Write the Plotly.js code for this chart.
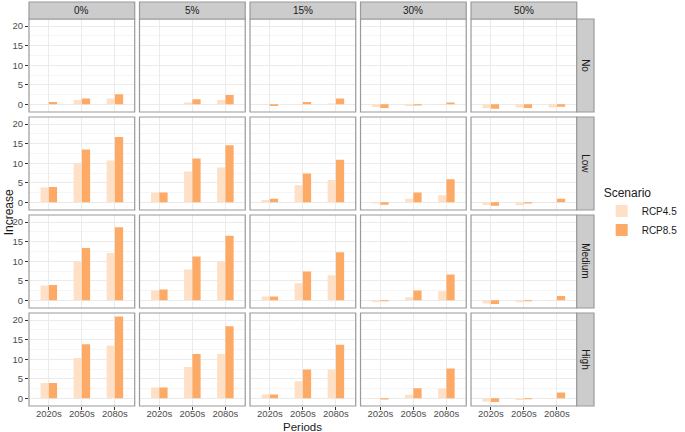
<!DOCTYPE html>
<html>
<head>
<meta charset="utf-8">
<script src="https://cdn.plot.ly/plotly-3.0.1.min.js"></script>
<style>html,body{margin:0;padding:0;background:#fff;}#chart{width:685px;height:432px;}</style>
</head>
<body>
<div id="chart"></div>
<script>
// ---- data ----
const periods = ["2020s", "2050s", "2080s"];
const shares = ["0%", "5%", "15%", "30%", "50%"];
const levels = ["No", "Low", "Medium", "High"];
const scenarios = ["RCP4.5", "RCP8.5"];

// values[level][share] = [2020s, 2050s, 2080s]
const rcp45_No     = [[0.1, 1.1, 1.5], [0.0, 0.5, 1.1], [-0.1, 0.1, 0.25], [-0.7, -0.4, -0.15], [-1.0, -0.8, -0.8]];
const rcp85_No     = [[0.6, 1.5, 2.6], [0.05, 1.3, 2.4], [-0.4, 0.6, 1.5], [-0.9, -0.3, 0.5], [-1.1, -0.9, -0.6]];
const rcp45_Low    = [[3.8, 9.9, 10.7], [2.5, 7.9, 8.9], [0.6, 4.4, 5.7], [-0.3, 0.9, 1.8], [-0.7, -0.75, -0.1]];
const rcp85_Low    = [[3.9, 13.5, 16.7], [2.5, 11.2, 14.6], [0.95, 7.4, 10.9], [-0.6, 2.5, 5.9], [-0.85, -0.3, 0.9]];
const rcp45_Medium = [[3.8, 9.9, 12.1], [2.5, 7.9, 10.0], [1.0, 4.4, 6.4], [-0.4, 0.8, 2.3], [-0.8, -0.5, -0.1]];
const rcp85_Medium = [[3.9, 13.4, 18.7], [2.8, 11.2, 16.5], [1.0, 7.4, 12.3], [-0.2, 2.5, 6.6], [-0.95, -0.25, 1.1]];
const rcp45_High   = [[3.9, 10.3, 13.5], [2.8, 8.0, 11.3], [1.0, 4.4, 7.4], [-0.1, 0.9, 2.5], [-0.8, -0.4, -0.1]];
const rcp85_High   = [[3.9, 13.8, 20.9], [2.8, 11.3, 18.4], [1.0, 7.4, 13.7], [-0.3, 2.6, 7.6], [-0.95, -0.2, 1.5]];

const rcp45 = [rcp45_No, rcp45_Low, rcp45_Medium, rcp45_High];
const rcp85 = [rcp85_No, rcp85_Low, rcp85_Medium, rcp85_High];
const yTicks = [0, 5, 10, 15, 20];

// ---- styling / geometry ----
const colors = ["#FDE0C5", "#FDAA66"];
const W = 685, H = 432;
const M = {l: 29, r: 67, t: 2, b: 26};
const PW = W - M.l - M.r, PH = H - M.t - M.b;
const stripH = 17, stripW = 18, gap = 5;
const panelsLeft = 29, panelsRight = 600, panelsTop = 19, panelsBottom = 406;
const pw = (panelsRight - panelsLeft - gap * 4) / 5;
const ph = (panelsBottom - panelsTop - gap * 3) / 4;
const px = x => (x - M.l) / PW;
const py = y => 1 - (y - M.t) / PH;

const font = "Liberation Sans, Arial, sans-serif";
const traces = [];
const layout = {
  width: W, height: H,
  margin: M,
  paper_bgcolor: "#fff", plot_bgcolor: "#fff",
  barmode: "group", bargap: 0.5, bargroupgap: 0,
  font: {family: font, size: 10, color: "#4D4D4D"},
  showlegend: true,
  legend: {
    x: px(626), y: py(181), xanchor: "left", yanchor: "top",
    title: {text: "Scenario", font: {size: 12, color: "#1A1A1A"}},
    font: {size: 10, color: "#1A1A1A"},
    tracegroupgap: 0, itemwidth: 30
  },
  shapes: [], annotations: []
};

for (let r = 0; r < 4; r++) {
  for (let c = 0; c < 5; c++) {
    const k = r * 5 + c + 1;
    const xa = "x" + (k === 1 ? "" : k), ya = "y" + (k === 1 ? "" : k);
    const xKey = "xaxis" + (k === 1 ? "" : k), yKey = "yaxis" + (k === 1 ? "" : k);
    const x0 = panelsLeft + c * (pw + gap), x1 = x0 + pw;
    const y0 = panelsTop + r * (ph + gap), y1 = y0 + ph;
    layout[xKey] = {
      domain: [px(x0), px(x1)], anchor: ya,
      type: "category", range: [-0.6, 2.6],
      categoryorder: "array", categoryarray: periods,
      showgrid: true, gridcolor: "#EBEBEB", gridwidth: 1,
      showticklabels: r === 3, ticks: r === 3 ? "outside" : "",
      ticklen: 3, tickcolor: "#333", tickfont: {size: 9.5, color: "#4D4D4D"},
      ticklabelstandoff: -4,
      zeroline: false, showline: false, fixedrange: true
    };
    layout[yKey] = {
      domain: [py(y1), py(y0)], anchor: xa,
      range: [-1.95, 21.8], tickvals: yTicks,
      showgrid: true, gridcolor: "#EBEBEB", gridwidth: 1,
      minor: {tickvals: [2.5, 7.5, 12.5, 17.5], showgrid: true, gridcolor: "#F5F5F5", gridwidth: 1},
      showticklabels: c === 0, ticks: c === 0 ? "outside" : "",
      ticklen: 3, tickcolor: "#333", tickfont: {size: 9.5, color: "#4D4D4D"},
      zeroline: false, showline: false, fixedrange: true
    };
    [rcp45, rcp85].forEach((ser, s) => {
      traces.push({
        type: "bar", x: periods, y: ser[r][c], xaxis: xa, yaxis: ya,
        name: scenarios[s], legendgroup: scenarios[s],
        showlegend: k === 1,
        marker: {color: colors[s], line: {width: 0}},
        hoverinfo: "skip"
      });
    });
    // panel border
    layout.shapes.push({type: "rect", xref: "paper", yref: "paper",
      x0: px(x0), x1: px(x1), y0: py(y1), y1: py(y0),
      line: {color: "#9A9A9A", width: 1.2}, fillcolor: "rgba(0,0,0,0)", layer: "above"});
  }
}
// top strips
for (let c = 0; c < 5; c++) {
  const x0 = panelsLeft + c * (pw + gap), x1 = x0 + pw;
  layout.shapes.push({type: "rect", xref: "paper", yref: "paper",
    x0: px(x0), x1: px(x1), y0: py(panelsTop), y1: py(panelsTop - stripH),
    line: {color: "#9A9A9A", width: 1.2}, fillcolor: "#CCCCCC", layer: "above"});
  layout.annotations.push({xref: "paper", yref: "paper", x: px((x0 + x1) / 2), y: py(panelsTop - stripH / 2),
    text: shares[c], showarrow: false, xanchor: "center", yanchor: "middle",
    font: {size: 10, color: "#1A1A1A"}});
}
// right strips
for (let r = 0; r < 4; r++) {
  const y0 = panelsTop + r * (ph + gap), y1 = y0 + ph;
  layout.shapes.push({type: "rect", xref: "paper", yref: "paper",
    x0: px(panelsRight), x1: px(panelsRight + stripW), y0: py(y1), y1: py(y0),
    line: {color: "#9A9A9A", width: 1.2}, fillcolor: "#CCCCCC", layer: "above"});
  layout.annotations.push({xref: "paper", yref: "paper", x: px(panelsRight + stripW / 2), y: py((y0 + y1) / 2),
    text: levels[r], showarrow: false, xanchor: "center", yanchor: "middle", textangle: 90,
    font: {size: 10, color: "#1A1A1A"}});
}
// axis titles
layout.annotations.push({xref: "paper", yref: "paper", x: px((panelsLeft + panelsRight) / 2), y: py(426.5),
  text: "Periods", showarrow: false, xanchor: "center", yanchor: "middle",
  font: {size: 11.5, color: "#1A1A1A"}});
layout.annotations.push({xref: "paper", yref: "paper", x: px(8), y: py((panelsTop + panelsBottom) / 2),
  text: "Increase", showarrow: false, xanchor: "center", yanchor: "middle", textangle: -90,
  font: {size: 12, color: "#1A1A1A"}});

Plotly.newPlot("chart", traces, layout, {displayModeBar: false, staticPlot: true});
</script>
</body>
</html>
